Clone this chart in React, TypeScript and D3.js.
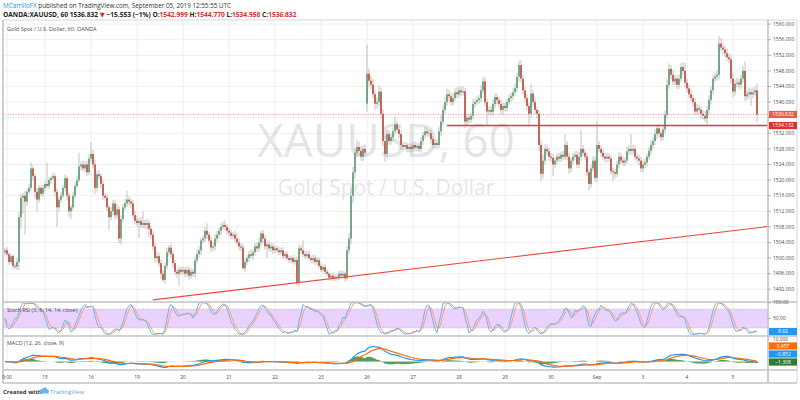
import React from "react";
import * as d3 from "d3";

// ---------- DATA ----------
const closes = [
  1502,1501,1499,1500.5,1498,1497.8,1499,1510.5,1515.5,1516,1514.5,1517,1518,1523,1521,1517,1515,1518,1516.5,1518,
  1519,1518.5,1520,1520.5,1521,1517,1513,1515,1516,1518,1520.5,1516,1512,1513,1516,1518.5,1520,1523.5,1524,1523,1524,1522,1525.5,
  1526.7,1524,1518,1521.5,1521,1519,1516,1515.5,1513,1510.5,1512,1514,1511,1512.5,1505,1510,1513,1514,1515,1514.5,1514,1511,1509.6,
  1509,1509.5,1508.5,1509,1508.5,1509,1507.5,1506,1503,1500,1500.5,1498.7,1496,1494.4,1498,1501.5,1502.7,1501,1498.7,1496.5,1496,1497,1496.5,
  1497,1496,1497,1495.5,1496.5,1496,1499.4,1501,1502,1504.5,1505,1507,1506,1504.5,1502.7,1503,1505,1506,1507,1508,1508.5,1508,1507,
  1506.5,1505.7,1506,1505,1504,1503,1502.7,1497.4,1499,1500,1501,1500.6,1501.5,1503,1502.5,1504,1506.3,1505,1503,1503.5,1502.5,1503,1502,
  1502.5,1502,1501.5,1502,1500.5,1501,1500,1499.5,1500,1499,1499.5,1493.6,1502.5,1502,1501,1500.5,1501,1500,1499.5,1500,1499,1499.5,1498,
  1497,1497.7,1496.5,1496,1495,1495.5,1494.8,1495.2,1495,1496,1495.5,1496,1494.8,1502,1505,1516,1522,1527,1528.5,1527.5,1526,1528,1527,
  1547.3,1545.5,1544.5,1542,1539.6,1540,1542.7,1537,1530,1526.7,1531.8,1530,1531,1532.5,1534.3,1533,1531.8,1529,1528.5,1529,1528,1528.5,1528,
  1529,1528.3,1528.8,1528,1530,1531.5,1532.5,1532,1532,1530.5,1529,1529.5,1529,1532.5,1535,1538,1540,1542,1541.5,1540,1541,1542.5,1542,
  1543,1542.5,1542.8,1535,1536,1535.5,1536.5,1539.5,1540,1540.5,1541,1543,1545.3,1540,1537.6,1538,1537.5,1539.5,1541.3,1540.5,1539.5,1538,1539,
  1538.5,1540,1541,1541.5,1542.5,1543.6,1546.5,1549.5,1546,1543,1541,1539,1537,1542.2,1540,1538,1537,1529,1521.6,1525,1528,1527.4,1526,
  1525.7,1524,1525,1526,1525.5,1526.5,1526,1529,1526,1523,1525,1526,1526.5,1524,1526,1528,1527,1526,1522,1519,1523,1525,1520.6,
  1529,1528,1527,1526,1525.5,1526,1525.5,1522.3,1522,1521.6,1524,1526,1525,1524.5,1525,1527.4,1528,1527.5,1528,1526,1525.5,1525,1523,
  1524,1524.5,1526,1527.5,1529,1530,1531.8,1533.3,1532,1531,1533,1536.8,1544.4,1548.5,1547,1545.3,1546,1544.4,1546,1549,1548,1545,1543.5,
  1542,1541,1540,1537.6,1538.4,1538,1537,1536.5,1535.8,1538,1540.6,1543,1546,1546.5,1547,1555,1554,1553.5,1552.5,1551.5,1551,1546,1542.7,
  1544.7,1545,1544.5,1546,1548,1541.5,1542,1542.5,1542,1542.5,1543,1536.832,
];
// upper / lower wick lengths, in tenths of a dollar
const wickUp = [
  6,8,5,7,4,6,10,14,9,8,12,7,10,15,8,6,9,7,6,8,
  8,54,7,6,9,5,8,6,10,7,9,6,8,7,10,9,12,35,8,10,7,9,12,
  30,10,12,8,10,7,9,6,8,7,12,10,9,15,8,10,9,12,23,8,7,9,10,
  12,8,10,30,9,10,8,7,9,10,12,8,9,10,8,12,6,10,9,8,7,9,8,
  8,7,9,8,10,7,9,12,10,8,9,10,19,8,9,10,12,9,8,10,9,12,8,
  8,9,7,10,15,12,8,9,10,8,9,12,8,9,10,12,7,10,9,8,10,9,8,
  7,6,8,7,9,6,8,7,6,8,7,9,10,8,25,9,8,10,7,8,9,8,7,
  7,6,8,7,6,7,8,6,7,9,8,7,6,12,15,20,15,12,18,14,12,10,12,
  74,15,12,14,10,12,15,10,12,14,12,10,9,10,20,8,9,10,9,8,7,9,8,
  8,9,7,8,10,9,12,8,9,10,8,9,10,12,15,12,14,15,12,10,12,10,12,
  10,9,12,8,9,10,8,12,9,10,8,12,12,10,8,9,10,12,10,9,8,10,9,
  9,8,10,9,10,12,10,11,12,10,9,10,8,25,10,9,8,10,12,15,12,10,9,
  9,10,8,9,10,8,9,27,10,9,8,10,9,10,12,50,10,9,10,8,10,12,10,
  60,10,9,8,10,9,8,10,9,8,10,12,9,10,8,12,10,38,10,9,8,10,9,
  9,10,8,10,12,10,12,9,10,8,12,10,15,15,10,12,9,10,12,10,12,20,10,
  10,12,9,10,12,10,9,10,12,10,12,10,9,10,12,20,15,12,10,12,10,12,15,
  10,12,9,10,12,24,10,12,10,12,10,18,
];
const wickDn = [
  8,6,7,5,9,6,8,20,30,40,85,12,6,7,10,15,30,8,6,7,
  9,7,8,10,6,12,50,10,8,6,7,12,15,20,8,9,7,6,10,8,9,10,7,
  8,10,15,9,8,10,12,7,9,35,8,10,12,9,12,15,8,7,9,10,12,8,10,
  10,40,9,8,10,12,20,9,10,12,8,10,12,6,10,8,9,10,12,9,10,30,8,
  7,9,8,10,8,9,10,8,9,12,8,9,10,8,12,9,10,8,9,10,8,9,10,
  8,9,10,8,7,10,9,4,10,8,9,7,10,8,9,8,10,12,9,29,8,9,10,
  6,7,8,6,7,8,6,7,8,6,7,6,8,9,7,8,6,7,8,9,7,8,6,
  6,7,8,6,7,8,6,7,8,6,7,8,8,5,10,15,20,15,12,14,10,12,10,
  20,15,12,10,15,12,10,12,15,20,12,10,9,10,8,9,10,12,9,8,9,8,9,
  8,9,10,8,9,10,8,9,10,12,8,9,10,8,12,10,9,10,12,10,9,8,10,
  9,10,8,17,9,10,8,9,10,8,9,10,8,10,38,9,10,8,9,10,9,12,9,
  9,10,8,9,10,9,10,12,10,9,10,12,27,10,9,10,12,15,18,12,10,9,10,
  10,30,9,10,8,9,10,8,9,14,10,9,8,10,9,10,8,9,10,17,10,9,10,
  10,9,10,8,9,10,8,9,22,12,9,10,8,9,10,8,9,10,8,9,10,12,10,
  10,9,10,8,10,9,10,12,9,10,8,10,12,10,12,10,9,12,10,9,10,12,10,
  10,9,12,10,9,10,12,10,9,15,10,12,10,9,10,12,10,12,10,9,10,12,15,
  10,9,10,12,10,12,10,12,30,10,9,19,
];
const firstOpen = 1501.5;
const gapIndex = [181];
const gapOpen = [1539.6];

const priceTicks = [1492,1496,1500,1504,1508,1512,1516,1520,1524,1528,1532,1536,1540,1544,1548,1552,1556,1560];
const dayLabels = ["9:00","15","16","19","20","21","22","23","26","27","28","29","30","Sep","3","4","5"];
const dayIndex = [1,20,43,66,89,112,135,158,181,204,227,250,273,296,319,341,364];

const lastPrice = 1536.832;
const supportPrice = 1534.132;
const supportStartIndex = 221;
const trendIndex = [74, 381.5];
const trendPrice = [1489.3, 1508.1];

const rsiTicks = [100, 50];
const rsiBand = [80, 20];
const rsiLast = "8.62";
const macdTicks = [10];
const macdBadges = ["0.457", "\u22120.852", "\u22121.308"];

// ---------- LAYOUT ----------
const L = 3, R = 768, OUTR = 797;
const TOP = 20, MAIN_B = 302, RSI_B = 336, MACD_B = 370, AX_B = 383;
const FONT = "'Open Sans', 'DejaVu Sans', sans-serif";
const UP = "#5a9c72", DOWN = "#c2463a", WICK = "#b3b3b3";
const GRID = "#eeeeee", BORDER = "#c3c3c3", TXT = "#4a4a4a";

// ---------- derived ----------
const candles = closes.map((c, i) => {
  const g = gapIndex.indexOf(i);
  const o = i === 0 ? firstOpen : g >= 0 ? gapOpen[g] : closes[i - 1];
  const h = Math.max(o, c) + wickUp[i] / 10;
  const l = Math.min(o, c) - wickDn[i] / 10;
  return { o, h, l, c };
});

function ema(src: number[], n: number) {
  const a = 2 / (n + 1);
  let p = src[0];
  return src.map((v, i) => (p = i === 0 ? v : a * v + (1 - a) * p));
}
function sma(src: number[], n: number) {
  return src.map((_, i) => {
    const s = src.slice(Math.max(0, i - n + 1), i + 1);
    return d3.mean(s) as number;
  });
}
const ema12 = ema(closes, 12);
const ema26 = ema(closes, 26);
const macd = closes.map((_, i) => ema12[i] - ema26[i]);
const signal = ema(macd, 9);
const hist = macd.map((m, i) => m - signal[i]);

const rsi: number[] = (() => {
  let ag = 0, al = 0;
  return closes.map((c, i) => {
    if (i === 0) return 50;
    const d = c - closes[i - 1];
    const g = Math.max(d, 0), l = Math.max(-d, 0);
    const n = Math.min(i, 14);
    ag = (ag * (n - 1) + g) / n;
    al = (al * (n - 1) + l) / n;
    if (al === 0) return 100;
    return 100 - 100 / (1 + ag / al);
  });
})();
const stoch = rsi.map((v, i) => {
  const w = rsi.slice(Math.max(0, i - 13), i + 1);
  const mn = d3.min(w) as number, mx = d3.max(w) as number;
  return mx === mn ? 50 : ((v - mn) / (mx - mn)) * 100;
});
const kLine = sma(stoch, 3);
const dLine = sma(kLine, 3);

// ---------- scales ----------
const xs = d3.scaleLinear().domain([0, closes.length - 1]).range([5, 757]);
const yP = d3.scaleLinear().domain([1492, 1560]).range([289.3, 24.1]);
const yR = d3.scaleLinear().domain([0, 100]).range([334.3, 302.7]);
const macdExt = d3.extent([...macd, ...signal, ...hist]) as [number, number];
const yM = d3.scaleLinear().domain(macdExt).range([367.5, 346.5]);

const lineR = (arr: number[]) => d3.line<number>().x((_, i) => xs(i)).y((v) => yR(v))(arr) || "";
const lineM = (arr: number[]) => d3.line<number>().x((_, i) => xs(i)).y((v) => yM(v))(arr) || "";

function Badge({ y, text, fill }: { y: number; text: string; fill: string }) {
  return (
    <g>
      <rect x={R + 1} y={y - 3.6} width={OUTR - R - 1} height={7.2} fill={fill} />
      <text x={(R + 1 + OUTR) / 2} y={y} dy="0.35em" textAnchor="middle" fontSize={5} fill="#fff" fontFamily={FONT}>
        {text}
      </text>
    </g>
  );
}

export default function App() {
  const yLast = yP(lastPrice);
  const ySup = yP(supportPrice) + 0.6;
  // price tick labels hidden where the price badges sit
  const visibleTicks = priceTicks.filter((p) => Math.abs(yP(p) - yLast) > 6 && Math.abs(yP(p) - ySup) > 6);
  return (
    <svg width={800} height={400} style={{ position: "absolute", left: 0, top: 0, background: "#fff" }} fontFamily={FONT}>
      <defs>
        <clipPath id="mainClip"><rect x={L} y={TOP} width={R - L} height={MAIN_B - TOP} /></clipPath>
        <clipPath id="rsiClip"><rect x={L} y={MAIN_B} width={R - L} height={RSI_B - MAIN_B} /></clipPath>
        <clipPath id="macdClip"><rect x={L} y={RSI_B} width={R - L} height={MACD_B - RSI_B} /></clipPath>
      </defs>
      <rect width={800} height={400} fill="#fff" />

      {/* header */}
      <text x={3} y={8.3} fontSize={6.3} fill="#333">
        <tspan fill="#2196f3">MCarrilloFX</tspan>
        <tspan> published on TradingView.com, September 05, 2019 12:55:55 UTC</tspan>
      </text>
      <text x={3} y={16.5} fontSize={6.6} fill="#222" fontWeight="bold">
        <tspan>OANDA:XAUUSD, 60 </tspan>
        <tspan>1536.832 </tspan>
        <tspan fill="#d32f2f">▼</tspan>
        <tspan> −15.553 (−1%) O:</tspan>
        <tspan fill="#d32f2f">1542.999</tspan>
        <tspan> H:</tspan>
        <tspan fill="#d32f2f">1544.770</tspan>
        <tspan> L:</tspan>
        <tspan fill="#d32f2f">1534.958</tspan>
        <tspan> C:</tspan>
        <tspan fill="#d32f2f">1536.832</tspan>
      </text>

      {/* grid */}
      {priceTicks.map((p) => (
        <line key={"hg" + p} x1={L} x2={R} y1={yP(p)} y2={yP(p)} stroke={GRID} strokeWidth={1} />
      ))}
      {dayIndex.map((d) => (
        <line key={"vg" + d} x1={xs(d)} x2={xs(d)} y1={TOP} y2={MACD_B} stroke={GRID} strokeWidth={1} />
      ))}

      {/* watermark */}
      <text x={386} y={157} textAnchor="middle" fontSize={46} fill="#9598a1" fillOpacity={0.25}>XAUUSD, 60</text>
      <text x={386} y={195} textAnchor="middle" fontSize={21} fill="#9598a1" fillOpacity={0.25}>Gold Spot / U.S. Dollar</text>

      <text x={7} y={31} fontSize={5.6} fill={TXT}>Gold Spot / U.S. Dollar, 60, OANDA</text>

      {/* main pane */}
      <g clipPath="url(#mainClip)">
        <line x1={L} x2={R} y1={yLast} y2={yLast} stroke="#e57368" strokeWidth={0.8} strokeDasharray="1,1.5" />
        {candles.map((d, i) => (
          <line key={"w" + i} x1={xs(i)} x2={xs(i)} y1={yP(d.h)} y2={yP(d.l)} stroke={WICK} strokeWidth={0.8} />
        ))}
        {candles.map((d, i) => {
          const a = yP(d.o), b = yP(d.c);
          const top = Math.min(a, b);
          const h = Math.max(Math.abs(a - b), 0.8);
          return <rect key={"b" + i} x={xs(i) - 0.8} y={top} width={1.6} height={h} fill={d.c >= d.o ? UP : DOWN} />;
        })}
        <line x1={xs(supportStartIndex)} x2={R} y1={ySup} y2={ySup} stroke="#e53935" strokeWidth={1.5} />
        <line x1={xs(trendIndex[0])} x2={xs(trendIndex[1])} y1={yP(trendPrice[0])} y2={yP(trendPrice[1])} stroke="#f0483e" strokeWidth={1.2} />
      </g>

      {/* RSI pane */}
      <rect x={L} y={yR(rsiBand[0])} width={R - L} height={yR(rsiBand[1]) - yR(rsiBand[0])} fill="#e9d2fd" />
      {rsiBand.map((b) => (
        <line key={"rb" + b} x1={L} x2={R} y1={yR(b)} y2={yR(b)} stroke="#a9a9a9" strokeWidth={0.6} strokeDasharray="1,1.5" />
      ))}
      <g clipPath="url(#rsiClip)">
        <path d={lineR(dLine)} fill="none" stroke="#ffa06e" strokeWidth={1} />
        <path d={lineR(kLine)} fill="none" stroke="#6db4f2" strokeWidth={1} />
      </g>
      <text x={7} y={312} fontSize={5.4} fill={TXT}>Stoch RSI (3, 3, 14, 14, close)</text>

      {/* MACD pane */}
      <g clipPath="url(#macdClip)">
        {hist.map((v, i) => (
          <rect key={"h" + i} x={xs(i) - 0.8} y={Math.min(yM(v), yM(0))} width={1.6} height={Math.abs(yM(v) - yM(0))} fill="#2f8433" />
        ))}
        <path d={lineM(macd)} fill="none" stroke="#2196f3" strokeWidth={1.2} />
        <path d={lineM(signal)} fill="none" stroke="#ff6d00" strokeWidth={1.2} />
      </g>
      <text x={7} y={345} fontSize={5.4} fill={TXT}>MACD (12, 26, close, 9)</text>

      {/* frame */}
      <line x1={L} x2={OUTR} y1={TOP} y2={TOP} stroke="#d6d6d6" strokeWidth={1} />
      <line x1={L} x2={L} y1={TOP} y2={AX_B} stroke={BORDER} strokeWidth={1.6} />
      <line x1={OUTR} x2={OUTR} y1={TOP} y2={AX_B} stroke="#d6d6d6" strokeWidth={1} />
      <line x1={R} x2={R} y1={TOP} y2={AX_B} stroke={BORDER} strokeWidth={1.6} />
      {[MAIN_B, RSI_B, MACD_B].map((y) => (
        <line key={"sep" + y} x1={L} x2={OUTR} y1={y} y2={y} stroke={BORDER} strokeWidth={1.4} />
      ))}
      <line x1={L} x2={OUTR} y1={AX_B} y2={AX_B} stroke={BORDER} strokeWidth={1.4} />

      {/* price axis */}
      {priceTicks.map((p) => (
        <line key={"ptk" + p} x1={R} x2={R + 3} y1={yP(p)} y2={yP(p)} stroke="#888" strokeWidth={0.6} />
      ))}
      {visibleTicks.map((p) => (
        <text key={"pt" + p} x={773} y={yP(p)} dy="0.35em" fontSize={5} fill={TXT}>{p.toFixed(3)}</text>
      ))}
      <Badge y={yLast} text={lastPrice.toFixed(3)} fill="#e2604f" />
      <Badge y={ySup} text={supportPrice.toFixed(3)} fill="#df2f2f" />

      {rsiTicks.map((t) => (
        <g key={"rt" + t}>
          <line x1={R} x2={R + 3} y1={yR(t)} y2={yR(t)} stroke="#888" strokeWidth={0.6} />
          <text x={773} y={yR(t)} dy="0.35em" fontSize={5} fill={TXT}>{t.toFixed(2)}</text>
        </g>
      ))}
      <Badge y={331.5} text={rsiLast} fill="#2196f3" />

      {macdTicks.map((t) => (
        <text key={"mt" + t} x={773} y={339.4} dy="0.3em" fontSize={4.8} fill={TXT}>{t.toFixed(3)}</text>
      ))}
      <Badge y={346} text={macdBadges[0]} fill="#ff6d00" />
      <Badge y={354} text={macdBadges[1]} fill="#2196f3" />
      <Badge y={362} text={macdBadges[2]} fill="#2e7d32" />

      {/* time axis */}
      {dayLabels.map((lab, k) => (
        <text key={"d" + k} x={k === 0 ? 7 : xs(dayIndex[k])} y={378.5} textAnchor="middle" fontSize={5} fill={TXT}>{lab}</text>
      ))}

      {/* footer */}
      <text x={3} y={394} fontSize={6} fill="#333" fontWeight="bold">Created with</text>
      <g fill="#64b5f6">
        <circle cx={42} cy={391.2} r={2.2} />
        <circle cx={44.8} cy={390.2} r={2.6} />
        <circle cx={47.2} cy={391.6} r={1.9} />
        <rect x={41} y={391.5} width={7} height={2} rx={1} />
      </g>
      <text x={50} y={394} fontSize={6} fill="#5aa9e8">TradingView</text>
    </svg>
  );
}
